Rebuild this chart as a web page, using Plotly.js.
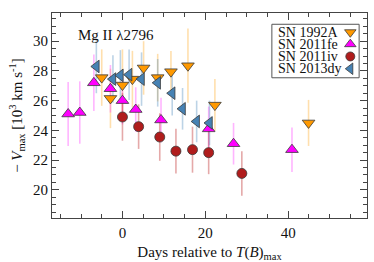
<!DOCTYPE html>
<html>
<head>
<meta charset="utf-8">
<script src="https://cdn.plot.ly/plotly-3.0.1.min.js"></script>
<style>html,body{margin:0;padding:0;background:#fff;}#chart{width:374px;height:262px;}</style>
</head>
<body>
<div id="chart"></div>
<script>
// ---- data ----
const seriesNames = ["SN 1992A", "SN 2011fe", "SN 2011iv", "SN 2013dy"];

const days1992A = [-5.0, -2.9, 0.0, 2.4, 5.1, 8.5, 11.7, 15.8, 22.3, 44.9];
const vel1992A  = [27.55, 26.15, 27.05, 27.45, 28.2, 27.55, 27.95, 28.35, 25.7, 24.5];
const err1992A  = [1.9, 2.0, 2.4, 1.9, 1.8, 1.6, 1.4, 2.5, 1.75, 1.55];

const days2011fe = [-13.1, -10.3, -6.9, -2.9, 0.0, 3.2, 9.3, 20.8, 26.8, 40.9];
const vel2011fe  = [25.1, 25.2, 27.2, 26.8, 26.0, 25.4, 24.7, 24.1, 23.1, 22.7];
const err2011fe  = [2.15, 2.1, 1.9, 1.6, 1.6, 1.5, 1.5, 1.5, 1.4, 1.5];

const days2011iv = [0.0, 3.9, 9.0, 12.9, 16.9, 20.8, 28.8];
const vel2011iv  = [24.9, 24.25, 23.55, 22.6, 22.7, 22.5, 21.1];
const err2011iv  = [1.6, 1.5, 1.6, 1.5, 1.55, 1.45, 1.5];

const days2013dy = [-6.3, -2.3, -0.5, 1.6, 4.6, 8.5, 12.0, 14.5, 17.9, 21.0];
const vel2013dy  = [28.3, 27.45, 27.7, 27.75, 27.45, 27.2, 26.5, 25.45, 24.6, 24.5];
const err2013dy  = [1.8, 1.6, 1.7, 1.7, 1.8, 1.6, 1.5, 1.4, 1.4, 1.5];

const xTickVals = [0, 20, 40];
const yTickVals = [20, 22, 24, 26, 28, 30];

// ---- styles ----
const FONT = "Liberation Serif, Times New Roman, serif";
const styles = [
  {sym: "triangle-down", color: "#FF9900", err: "rgba(255,170,40,0.38)", size: 11},
  {sym: "triangle-up",   color: "#FF00FF", err: "rgba(255,60,255,0.38)", size: 11},
  {sym: "circle",        color: "#B01C1C", err: "rgba(190,40,40,0.40)", size: 10},
  {sym: "triangle-left", color: "#4682B4", err: "rgba(80,140,190,0.38)", size: 11}
];
const series = [
  [days1992A, vel1992A, err1992A],
  [days2011fe, vel2011fe, err2011fe],
  [days2011iv, vel2011iv, err2011iv],
  [days2013dy, vel2013dy, err2013dy]
];

const traces = [];
// error bars first (behind all markers)
series.forEach((s, i) => {
  traces.push({
    type: "scatter", mode: "markers", x: s[0], y: s[1], showlegend: false, hoverinfo: "skip",
    marker: {opacity: 0, size: 1},
    error_y: {type: "data", array: s[2], visible: true, color: styles[i].err, thickness: 1.6, width: 0}
  });
});
series.forEach((s, i) => {
  traces.push({
    type: "scatter", mode: "markers", x: s[0], y: s[1], name: seriesNames[i], showlegend: false,
    marker: {symbol: styles[i].sym, color: styles[i].color, size: styles[i].size,
             line: {color: "#3a3a3a", width: 0.8}}
  });
});

// custom legend (markers to the right of the names)
const legX0 = 0.698, legX1 = 0.975, legY0 = 0.684, legY1 = 0.945;
const legTextX = 0.714, legMarkX = 0.947;
const legRows = [0.906, 0.848, 0.788, 0.728];
styles.forEach((st, i) => {
  traces.push({
    type: "scatter", mode: "markers", xaxis: "x2", yaxis: "y2",
    x: [legMarkX], y: [legRows[i]], showlegend: false, hoverinfo: "skip",
    marker: {symbol: st.sym, color: st.color, size: st.size - 1, line: {color: "#3a3a3a", width: 0.8}}
  });
});

const annotations = [
  {xref: "paper", yref: "paper", x: 0.2025, y: 0.893, text: "Mg II λ2796", showarrow: false,
   font: {family: FONT, size: 15, color: "#111"}, xanchor: "center", yanchor: "middle"}
];
seriesNames.forEach((n, i) => {
  annotations.push({xref: "paper", yref: "paper", x: legTextX, y: legRows[i], text: n, showarrow: false,
    font: {family: FONT, size: 14, color: "#111"}, xanchor: "left", yanchor: "middle", borderpad: 0});
});

const axCommon = {
  showgrid: false, zeroline: false, showline: true, linecolor: "#444", linewidth: 1,
  mirror: "allticks", ticks: "inside", tickcolor: "#444", tickwidth: 1,
  tickfont: {family: FONT, size: 15, color: "#111"}
};

const layout = {
  width: 374, height: 262,
  margin: {l: 52, r: 7, t: 13, b: 44},
  paper_bgcolor: "#fff", plot_bgcolor: "#fff",
  showlegend: false,
  xaxis: Object.assign({}, axCommon, {
    range: [-17, 59], tickmode: "array", tickvals: xTickVals, ticklen: 7, ticklabelstandoff: 1,
    minor: {dtick: 5, tick0: 0, ticks: "inside", ticklen: 4, tickcolor: "#444"},
    title: {text: "Days relative to <i>T</i>(<i>B</i>)<sub>max</sub>", font: {family: FONT, size: 15, color: "#111"}, standoff: 9}
  }),
  yaxis: Object.assign({}, axCommon, {
    range: [18.1, 31.9], tickmode: "array", tickvals: yTickVals, ticklen: 7,
    minor: {dtick: 0.5, tick0: 0, ticks: "inside", ticklen: 4, tickcolor: "#444"},
    title: {text: "− <i>V</i><sub>max</sub> [10<sup>3</sup> km s<sup>-1</sup>]", font: {family: FONT, size: 15, color: "#111"}, standoff: 6}
  }),
  xaxis2: {overlaying: "x", range: [0, 1], visible: false, fixedrange: true},
  yaxis2: {overlaying: "y", range: [0, 1], visible: false, fixedrange: true},
  shapes: [
    {type: "rect", xref: "paper", yref: "paper", x0: legX0, x1: legX1, y0: legY0, y1: legY1,
     line: {color: "#555", width: 1}, fillcolor: "rgba(255,255,255,1)", layer: "below"}
  ],
  annotations: annotations
};

Plotly.newPlot("chart", traces, layout, {displayModeBar: false, staticPlot: true});
</script>
</body>
</html>
